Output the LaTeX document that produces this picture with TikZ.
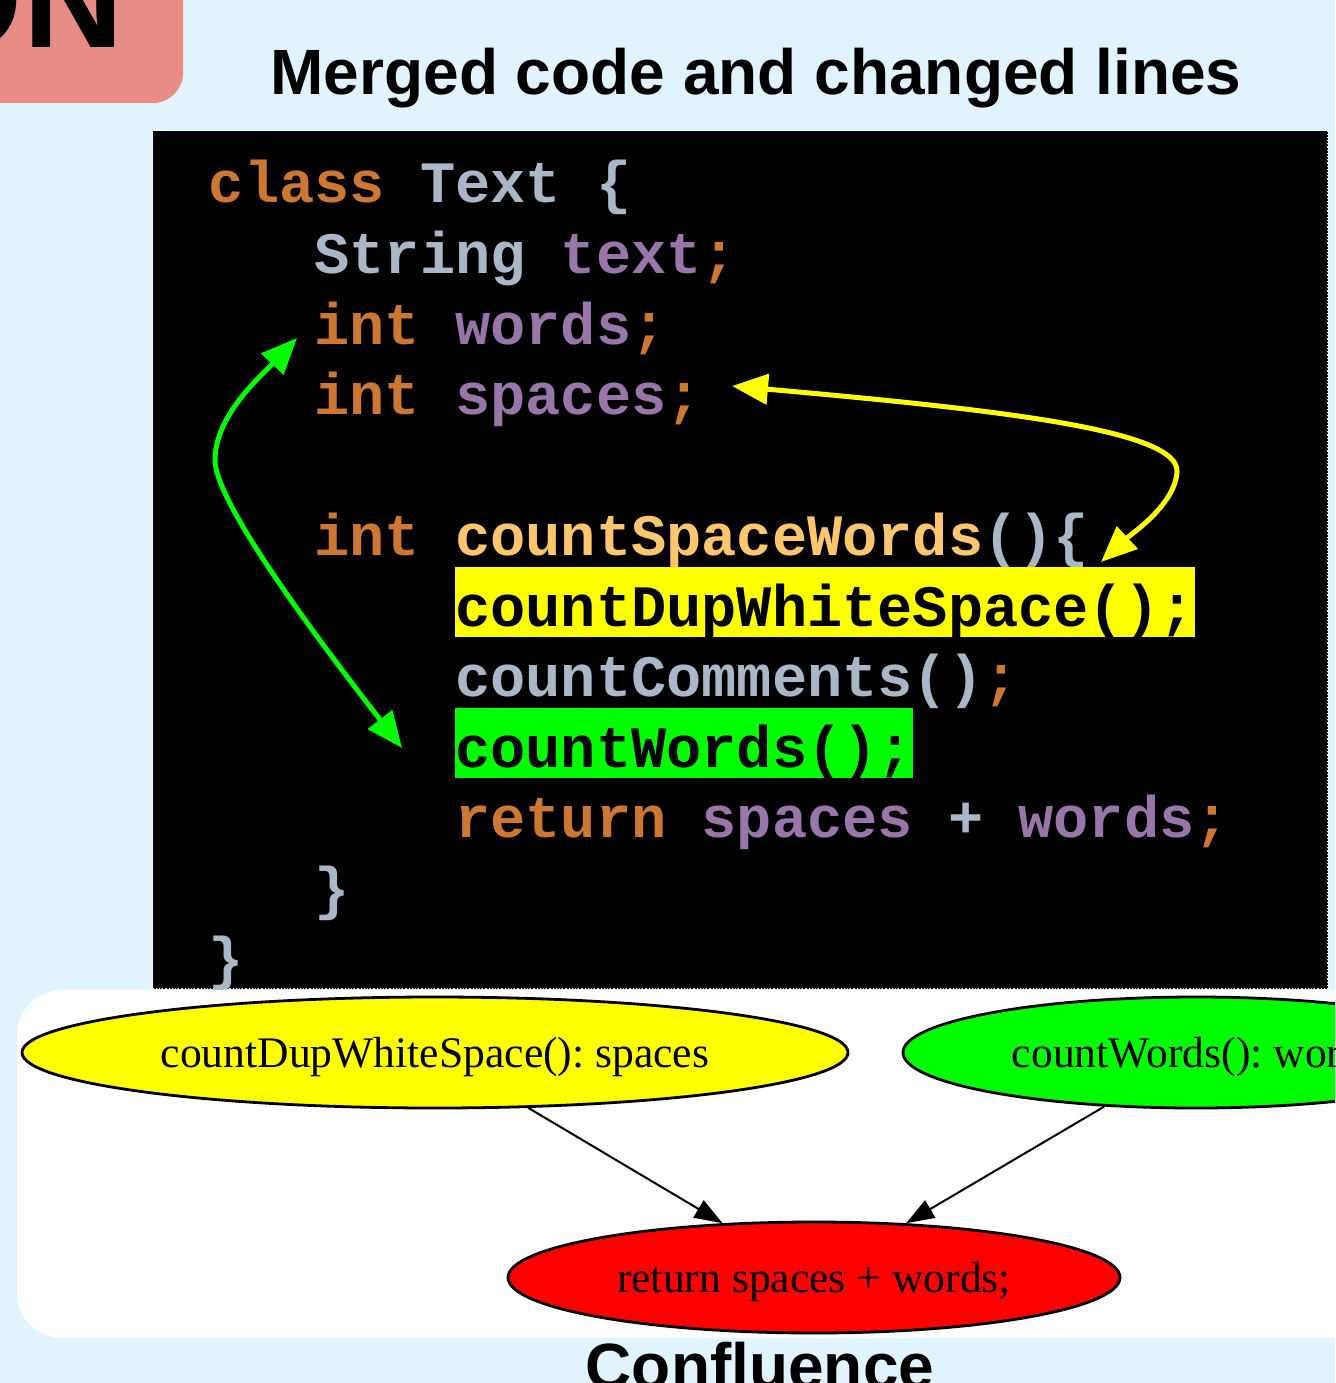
\documentclass[tikz,border=0pt]{standalone}
\usepackage{fontspec}
\setmainfont{Liberation Serif}
\newfontfamily\codefont{Liberation Mono}
\newfontfamily\headfont{Liberation Sans}
\usetikzlibrary{shapes.geometric,arrows.meta}
\definecolor{bgblue}{HTML}{E1F4FE}
\definecolor{pinkbox}{HTML}{E98C86}
\definecolor{kwc}{HTML}{CC7832}
\definecolor{plainc}{HTML}{A9B7C6}
\definecolor{varc}{HTML}{9876AA}
\definecolor{methc}{HTML}{FFC66D}
\definecolor{hlyellow}{HTML}{FFFF00}
\definecolor{hlgreen}{HTML}{00FF00}
\definecolor{gvred}{HTML}{FF0000}
\newcommand\ckw[1]{\textcolor{kwc}{#1}}
\newcommand\cpl[1]{\textcolor{plainc}{#1}}
\newcommand\cvar[1]{\textcolor{varc}{#1}}
\newcommand\cmeth[1]{\textcolor{methc}{#1}}
\frenchspacing
\begin{document}
\begin{tikzpicture}[x=1pt,y=-1pt,
  headtext/.style={inner sep=0pt, anchor=base, font=\headfont\bfseries\fontsize{64}{70}\selectfont},
  codeline/.style={anchor=base west, inner sep=0pt, text=plainc, font=\codefont\bfseries\fontsize{58.67}{70}\selectfont},
  hlline/.style={codeline, text=black, text height=59pt, text depth=11pt},
  codebox/.style={fill=black, draw=white, dotted, line width=1.2pt, inner sep=0pt, anchor=north west},
  gvnode/.style={ellipse, draw=black, line width=2.8pt, inner sep=0pt, text height=40pt, text depth=10pt, font=\fontsize{43.6}{50}\selectfont},
  gvedge/.style={draw=black, line width=2pt, -{Triangle[length=28pt,width=20pt]}},
  hiarrow/.style={line width=5pt, {Triangle[length=36pt,width=30pt]}-{Triangle[length=36pt,width=30pt]}}
]
\useasboundingbox (0,0) rectangle (1335,1383);
\clip (0,0) rectangle (1335,1383);
\fill[bgblue] (0,0) rectangle (1335,1383);
% logo box
\fill[pinkbox, rounded corners=30pt] (-60,-60) rectangle (183,103);
\node[anchor=base east, inner sep=0pt, font=\headfont\bfseries\fontsize{139}{139}\selectfont] (logo) at (123.6,48) {ON};
% title
\node[headtext] (title) at (756,95) {Merged code and changed lines};
% code box
\node[codebox, minimum width=1175pt, minimum height=858pt] (codebox) at (152,130) {};
\node[codeline] (l0) at (208.6,203) {\ckw{class} \cpl{Text \{}};
\node[codeline] (l1) at (314.2,273.5) {\cpl{String} \cvar{text}\ckw{;}};
\node[codeline] (l2) at (314.2,344) {\ckw{int} \cvar{words}\ckw{;}};
\node[codeline] (l3) at (314.2,414.5) {\ckw{int} \cvar{spaces}\ckw{;}};
\node[codeline] (l5) at (314.2,555.5) {\ckw{int} \cmeth{countSpaceWords}\cpl{()\{}};
\node[hlline, fill=hlyellow] (l6) at (455,626) {countDupWhiteSpace();};
\node[codeline] (l7) at (455,696.5) {\cpl{countComments()}\ckw{;}};
\node[hlline, fill=hlgreen] (l8) at (455,767) {countWords();};
\node[codeline] (l9) at (455,837.5) {\ckw{return} \cvar{spaces} \cpl{+} \cvar{words}\ckw{;}};
\node[codeline] (l10) at (314.2,908) {\}};
\node[codeline] (l11) at (208.6,978.5) {\}};
% highlight arrows
\coordinate (ya) at (732,386);
\coordinate (yb) at (1101,562);
\coordinate (gc) at (297,338);
\coordinate (gd) at (402,748);
\draw[hiarrow, draw=hlyellow] (ya) .. controls (1000,410) and (1180,430) .. (1177,472) .. controls (1175,505) and (1130,535) .. (yb);
\draw[hiarrow, draw=hlgreen] (gc) .. controls (262,375) and (215,415) .. (215,460) .. controls (215,505) and (330,655) .. (gd);
% graph panel
\fill[white, rounded corners=45pt] (17,990) rectangle (1420,1338);
\node[gvnode, fill=hlyellow, minimum width=826pt, minimum height=111pt] (yel) at (435,1052.5) {countDupWhiteSpace(): spaces};
\node[gvnode, fill=hlgreen, minimum width=586pt, minimum height=111pt] (grn) at (1196,1052.5) {countWords(): words};
\node[gvnode, fill=gvred, minimum width=612pt, minimum height=111pt] (red) at (814,1277.5) {return spaces + words;};
\draw[gvedge] (yel) -- (red);
\draw[gvedge] (grn) -- (red);
% bottom caption
\node[headtext] (conf) at (760,1388) {Confluence};
\end{tikzpicture}
\end{document}
